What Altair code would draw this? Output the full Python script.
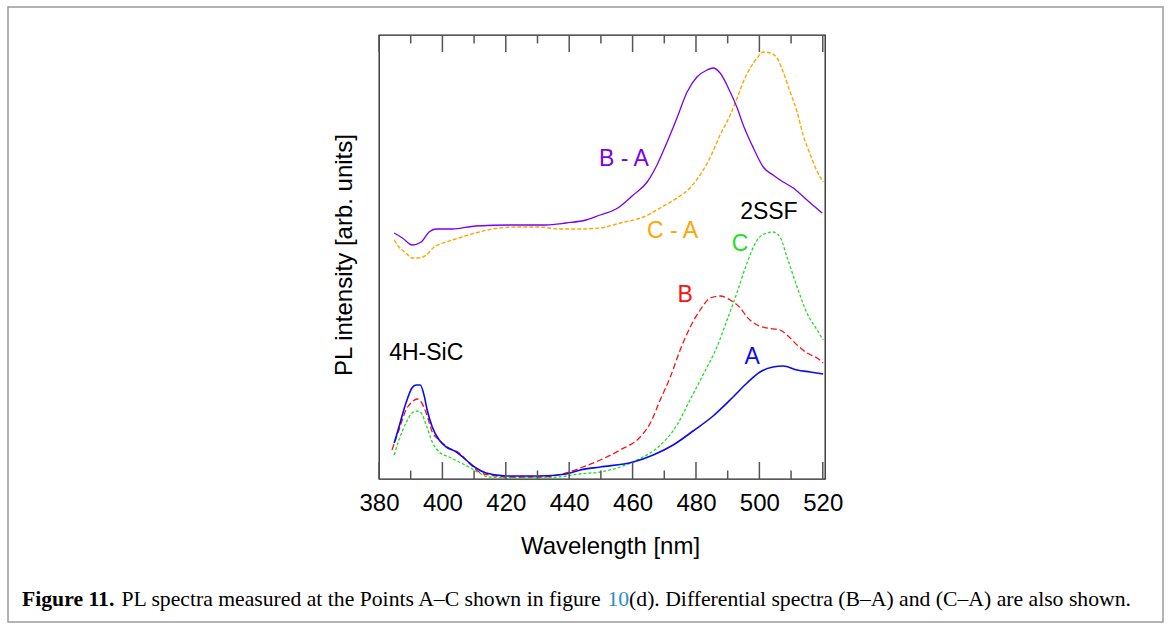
import altair as alt
import pandas as pd

# ---- data (wavelength in nm, intensity in arbitrary units) ----
A_wl = [384.8, 386.3, 388.5, 390.4, 391.7, 393.0, 394.2, 395.2, 396.8, 399.0, 401.2, 404.4, 407.5,
        410.6, 413.8, 420.1, 430.5, 439.0, 443.5, 449.8, 460.2, 466.5, 472.8, 479.1, 485.4, 491.7,
        496.1, 500.2, 504.3, 507.5, 511.9, 516.0, 520.1]
A_val = [36, 52, 76, 91, 94, 94, 84, 69, 52, 39, 32, 27, 19, 11, 6, 3, 3, 5, 9, 12, 17, 24, 34, 48,
         63, 82, 96, 107, 112, 113, 109, 107, 105]

B_wl = [384.1, 386.3, 388.5, 390.4, 392.0, 393.3, 394.9, 396.8, 399.0, 402.1, 405.3, 408.4, 411.6,
        414.7, 422.0, 430.5, 439.0, 443.5, 449.8, 456.1, 462.4, 465.6, 468.7, 471.9, 475.0, 478.2,
        481.3, 484.5, 487.6, 490.8, 494.0, 496.1, 499.3, 502.4, 506.5, 508.7, 511.9, 515.0, 518.2, 520.1]
B_val = [29, 49, 69, 77, 80, 77, 66, 47, 39, 31, 26, 16, 7, 4, 2, 2, 6, 11, 19, 29, 42, 56, 79, 102,
         129, 152, 169, 181, 183, 179, 171, 162, 154, 151, 149, 144, 134, 126, 121, 116]

C_wl = [384.8, 386.3, 388.5, 390.4, 392.0, 393.3, 394.9, 396.8, 399.0, 402.1, 405.3, 408.4, 411.6,
        414.7, 422.0, 430.5, 439.0, 443.2, 449.8, 456.1, 461.4, 467.7, 474.0, 478.1, 482.2, 486.6,
        489.8, 492.9, 496.1, 499.3, 502.4, 504.3, 506.5, 508.7, 511.9, 515.0, 518.2, 520.1]
C_val = [24, 39, 56, 66, 68, 66, 54, 37, 27, 22, 17, 12, 6, 2, 1, 1, 3, 5, 7, 12, 19, 31, 54, 79,
         104, 132, 159, 186, 216, 239, 246, 247, 242, 222, 192, 166, 149, 139]

BA_wl = [384.8, 387.4, 390.5, 393.3, 395.8, 398.0, 403.1, 410.6, 422.0, 432.7, 439.0, 445.3, 449.8,
         454.8, 460.2, 464.6, 467.7, 470.9, 474.0, 477.2, 480.3, 483.5, 485.4, 487.6, 490.8, 493.0,
         494.9, 498.1, 501.2, 504.3, 507.5, 510.7, 515.0, 519.8]
BA_val = [246, 241, 234, 237, 247, 250, 250, 253, 254, 254, 256, 259, 264, 270, 284, 297, 314, 337,
          361, 387, 402, 409, 411, 406, 387, 371, 354, 331, 312, 304, 297, 291, 279, 266]

CA_wl = [384.8, 386.3, 388.5, 390.4, 392.6, 394.9, 397.4, 401.2, 406.2, 411.6, 417.9, 424.2, 430.5,
         436.8, 443.2, 449.8, 456.1, 463.4, 468.7, 474.0, 478.1, 481.3, 484.4, 487.6, 490.8, 493.0,
         494.9, 497.1, 499.3, 501.2, 503.4, 505.6, 507.5, 509.7, 511.9, 513.8, 516.1, 518.3, 520.1]
CA_val = [239, 232, 226, 221, 221, 224, 232, 237, 242, 247, 251, 252, 252, 250, 250, 251, 256, 262,
          271, 281, 291, 304, 321, 344, 364, 381, 397, 411, 421, 427, 426, 421, 407, 387, 367, 344,
          324, 307, 297]

major_ticks = [380, 400, 420, 440, 460, 480, 500, 520]
minor_ticks = [390, 410, 430, 450, 470, 490, 510]

label_text = ["B - A", "C - A", "2SSF", "C", "B", "A", "4H-SiC"]
label_wl = [457.3, 472.6, 503.0, 493.9, 476.6, 497.7, 394.9]
label_val = [320, 248, 267, 235, 184, 122, 126]

caption_bold = "Figure 11."
caption_1 = "PL spectra measured at the Points A\u2013C shown in figure"
caption_link = "10"
caption_2 = "(d). Differential spectra (B\u2013A) and (C\u2013A) are also shown."

# ---- build tables ----
series = [("A", A_wl, A_val), ("B", B_wl, B_val), ("C", C_wl, C_val),
          ("BA", BA_wl, BA_val), ("CA", CA_wl, CA_val)]
df = pd.concat([pd.DataFrame({"series": n, "wl": w, "val": v}) for n, w, v in series],
               ignore_index=True)
labels_df = pd.DataFrame({"text": label_text, "wl": label_wl, "val": label_val})
one = pd.DataFrame({"k": [0]})

W, H = 446, 444
LEFT, TOP = 379, 35
SANS = "Liberation Sans"
SERIF = "Liberation Serif"

xscale = alt.Scale(domain=[380, 520.7], nice=False, zero=False)
yscale = alt.Scale(domain=[0, 444], nice=False, zero=False)
xaxis = alt.Axis(values=major_ticks, labelFontSize=24, labelFont=SANS, labelColor="black",
                 labelBaseline="alphabetic", labelPadding=31, tickSize=0, ticks=False,
                 domain=False, grid=False, labelFlush=False, title="Wavelength [nm]",
                 titleFont=SANS, titleFontSize=24, titleFontWeight="normal", titleColor="black",
                 titleX=231, titleY=74, titleBaseline="alphabetic", titleAlign="center")

X = alt.X("wl:Q", scale=xscale, axis=xaxis)
Y = alt.Y("val:Q", scale=yscale, axis=None)


def line(name, color, width, dash=None):
    kw = dict(color=color, strokeWidth=width, interpolate="monotone")
    if dash:
        kw["strokeDash"] = dash
    return (alt.Chart(df).transform_filter(alt.datum.series == name)
            .mark_line(**kw).encode(x=X, y=Y))


layers = [
    line("CA", "#ffa500", 1.4, [4, 2]),
    line("BA", "#7a00f0", 1.3),
    line("C", "#1fe01f", 1.3, [3, 2]),
    line("B", "#ff1010", 1.3, [6, 3]),
    line("A", "#0a0af5", 1.6),
]

# inward ticks (top and bottom)
maj = alt.Chart(pd.DataFrame({"wl": major_ticks}))
mnr = alt.Chart(pd.DataFrame({"wl": minor_ticks}))
tick_style = dict(color="#555", strokeWidth=1.5)
ticks = [
    maj.mark_rule(**tick_style).encode(x=X, y=alt.value(0), y2=alt.value(17)),
    maj.mark_rule(**tick_style).encode(x=X, y=alt.value(H), y2=alt.value(H - 17)),
    mnr.mark_rule(**tick_style).encode(x=X, y=alt.value(0), y2=alt.value(8.5)),
    mnr.mark_rule(**tick_style).encode(x=X, y=alt.value(H), y2=alt.value(H - 8.5)),
]

label_colors = ["#7a00f0", "#ffa500", "black", "#1fe01f", "#ff1010", "#0a0af5", "black"]
annot = alt.Chart(labels_df).mark_text(font=SANS, fontSize=23, align="center",
                                       baseline="middle").encode(
    x=X, y=Y, text="text:N",
    color=alt.Color("text:N", scale=alt.Scale(domain=label_text, range=label_colors),
                    legend=None))

ytitle = alt.Chart(one).mark_text(font=SANS, fontSize=24, angle=270, align="center",
                                  baseline="alphabetic", color="black").encode(
    x=alt.value(-27), y=alt.value(220), text=alt.value("PL intensity [arb. units]"))

frame = alt.Chart(one).mark_rect(fill="white", fillOpacity=0, stroke="#9a9a9a",
                                 strokeWidth=1.5).encode(
    x=alt.value(8 - LEFT), x2=alt.value(1163 - LEFT), y=alt.value(7 - TOP),
    y2=alt.value(622 - TOP))

# caption: positions follow from Liberation Serif glyph widths at this size
CAP_FS = 21.7
cap_base = 606 - TOP
x_bold = 22
x_p1 = x_bold + 4.333 * CAP_FS + 0.25 * CAP_FS
x_link = x_p1 + 465 * CAP_FS / 21 + 0.25 * CAP_FS
x_p2 = x_link + 1.0 * CAP_FS


def cap_text(txt, x, color="black", weight="normal"):
    return alt.Chart(one).mark_text(font=SERIF, fontSize=CAP_FS, fontWeight=weight,
                                    align="left", baseline="alphabetic", color=color).encode(
        x=alt.value(x - LEFT), y=alt.value(cap_base), text=alt.value(txt))


cap = [
    cap_text(caption_bold, x_bold, weight="bold"),
    cap_text(caption_1, x_p1),
    cap_text(caption_link, x_link, color="#2a8fc6"),
    cap_text(caption_2, x_p2),
]

chart = alt.layer(frame, *layers, *ticks, annot, ytitle, *cap).properties(
    width=W, height=H,
    padding={"left": LEFT, "top": TOP, "right": 1171 - LEFT - W, "bottom": 630 - TOP - H},
    autosize=alt.AutoSizeParams(type="none"),
    background="white",
).configure_view(stroke="#222", strokeWidth=1.3)

chart.save("out.html", embed_options={"renderer": "svg", "actions": False})
